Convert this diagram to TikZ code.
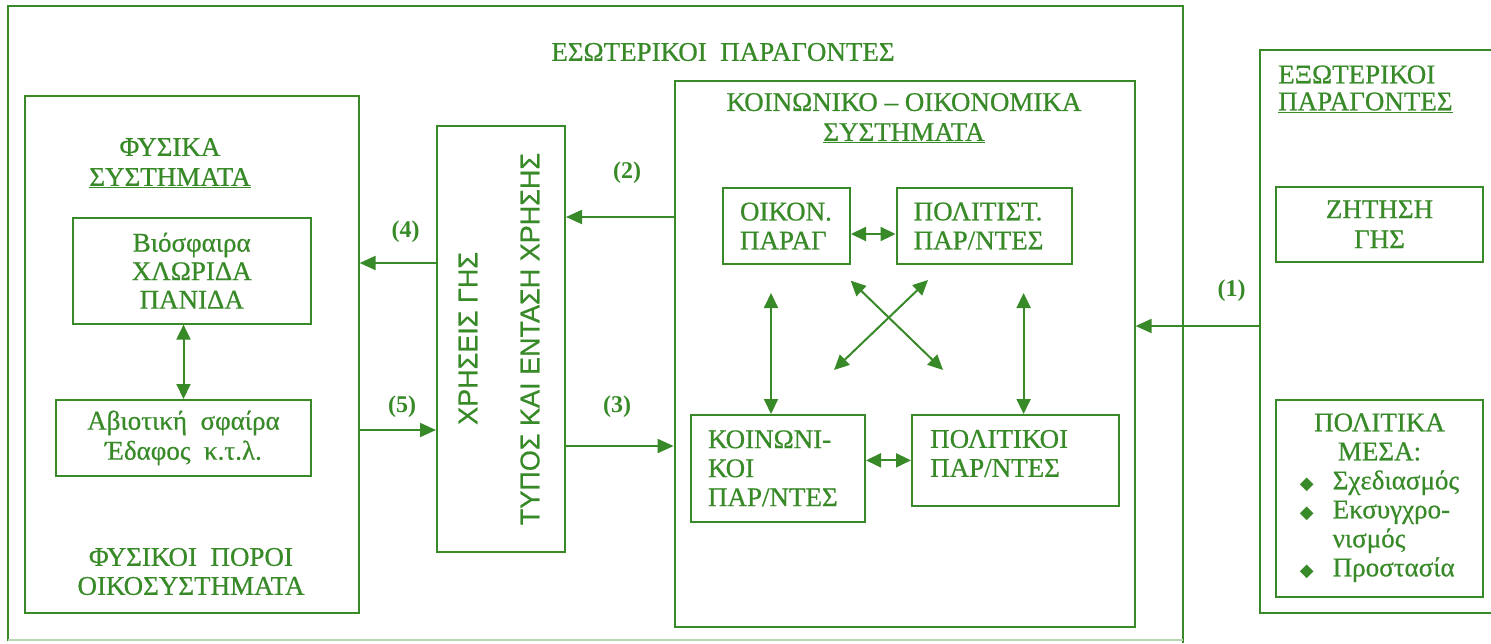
\documentclass[tikz,border=0pt]{standalone}
\usepackage{fontspec}
\setmainfont{Liberation Serif}[UprightFeatures={FakeBold=0.6}]
\newfontfamily\sansf{Liberation Sans}[UprightFeatures={FakeBold=0.6}]
\newfontfamily\djv{DejaVu Sans}
\usetikzlibrary{arrows.meta}
\definecolor{gr}{RGB}{56,138,40}
\newcommand\bul{{\djv\fontsize{18}{18}\selectfont ◆}}
\begin{document}
\begin{tikzpicture}[x=1pt,y=-1pt,
  every node/.style={text=gr, inner sep=0pt, font=\fontsize{27}{29}\selectfont},
  box/.style={draw=gr, line width=2pt, rectangle},
  conn/.style={draw=gr, line width=2pt, -{Triangle[length=16pt,width=14pt]}},
  dbl/.style={draw=gr, line width=2pt, {Triangle[length=15pt,width=14pt]}-{Triangle[length=15pt,width=14pt]}},
  num/.style={font=\fontsize{24}{26}\selectfont\bfseries},
  vtext/.style={rotate=90, font=\sansf\fontsize{27}{30}\selectfont},
]
\clip (0,0) rectangle (1491,643);
\fill[white] (0,0) rectangle (1491,643);

% outer frame (internal factors)
\draw[gr, line width=2pt] (8,641) -- (8,6) -- (1182.5,6) -- (1182.5,643);
\draw[gr!35, line width=2pt] (8,640) -- (1182.5,640);
\node (intt) at (723,52) {ΕΣΩΤΕΡΙΚΟΙ\ \ ΠΑΡΑΓΟΝΤΕΣ};

% natural systems
\node[box, minimum width=333.6pt, minimum height=517pt] (fys) at (191.8,354.5) {};
\node[align=center, font=\fontsize{27}{30}\selectfont] (fyst) at (170,163) {ΦΥΣΙΚΑ\\\underline{ΣΥΣΤΗΜΑΤΑ}};
\node[align=center] (fysb) at (191,571.5) {ΦΥΣΙΚΟΙ\ \ ΠΟΡΟΙ\\ΟΙΚΟΣΥΣΤΗΜΑΤΑ};
\node[box, minimum width=238pt, minimum height=106pt, align=center, font=\fontsize{27}{28.5}\selectfont] (bio) at (191.75,270.6) {Βιόσφαιρα\\ΧΛΩΡΙΔΑ\\ΠΑΝΙΔΑ};
\node[box, minimum width=255pt, minimum height=76pt, align=center, font=\fontsize{27}{30}\selectfont] (abio) at (183.5,438) {Αβιοτική\ \ σφαίρα\\Έδαφος\ \ κ.τ.λ.};
\draw[dbl] (bio.south -| abio.north) -- (abio.north);

% land use
\node[box, minimum width=128pt, minimum height=425.5pt] (xr) at (501,338.75) {};
\node[vtext] (xr1) at (468,338.4) {ΧΡΗΣΕΙΣ ΓΗΣ};
\node[vtext] (xr2) at (530,339) {ΤΥΠΟΣ ΚΑΙ ΕΝΤΑΣΗ ΧΡΗΣΗΣ};

% socio-economic systems
\node[box, minimum width=460pt, minimum height=546.3pt] (koino) at (904.6,353.85) {};
\node[align=center, font=\fontsize{27}{30}\selectfont] (koinot) at (904,118) {ΚΟΙΝΩΝΙΚΟ – ΟΙΚΟΝΟΜΙΚΑ\\\underline{ΣΥΣΤΗΜΑΤΑ}};
\node[box, minimum width=127.5pt, minimum height=76pt, align=left, text width=92.5pt, inner xsep=17.5pt] (oik) at (786.25,226) {ΟΙΚΟΝ.\\ΠΑΡΑΓ};
\node[box, minimum width=175pt, minimum height=76pt, align=left, text width=140.6pt, inner xsep=17.2pt] (polit) at (984,226) {ΠΟΛΙΤΙΣΤ.\\ΠΑΡ/ΝΤΕΣ};
\node[box, minimum width=174.3pt, minimum height=106.7pt, align=left, text width=139.7pt, inner xsep=17.3pt] (koin) at (777.85,468.35) {ΚΟΙΝΩΝΙ-\\ΚΟΙ\\ΠΑΡ/ΝΤΕΣ};
\node[box, minimum width=207pt, minimum height=90.7pt] (polk) at (1015.5,460.35) {};
\node[align=left, anchor=west] (polkt) at (930,453.5) {ΠΟΛΙΤΙΚΟΙ\\ΠΑΡ/ΝΤΕΣ};

\draw[dbl] ([yshift=-8pt]oik.east) -- ([yshift=-8pt]polit.west);
\draw[dbl] (koin.east |- polk.west) -- (polk.west);
\coordinate (v1) at (771,293);
\coordinate (v2) at (1023.6,293);
\draw[dbl] (v1) -- (v1 |- koin.north);
\draw[dbl] (v2) -- (v2 |- polk.north);
\coordinate (c1) at (850.7,280.7);
\coordinate (c2) at (943,370);
\coordinate (c3) at (928,280);
\coordinate (c4) at (834,370);
\draw[dbl] (c1) -- (c2);
\draw[dbl] (c3) -- (c4);

% external factors
\node[box, minimum width=260pt, minimum height=562.7pt] (ext) at (1390,331.35) {};
\node[align=left, anchor=west, font=\fontsize{27}{27}\selectfont] (extt) at (1278,89) {ΕΞΩΤΕΡΙΚΟΙ\\\underline{ΠΑΡΑΓΟΝΤΕΣ}};
\node[box, minimum width=207pt, minimum height=75.5pt, align=center, font=\fontsize{27}{30}\selectfont] (zit) at (1379.5,224.25) {ΖΗΤΗΣΗ\\ΓΗΣ};
\node[box, minimum width=207pt, minimum height=197pt, font=\fontsize{27}{29}\selectfont] (pm) at (1379.5,498) {%
\begin{tabular}{@{}c@{\hspace{19pt}}l@{}}
\multicolumn{2}{c}{ΠΟΛΙΤΙΚΑ}\\
\multicolumn{2}{c}{ΜΕΣΑ:}\\
\bul & Σχεδιασμός\\
\bul & Εκσυγχρο-\\
     & νισμός\\
\bul & Προστασία
\end{tabular}\hspace{5pt}};

% main connectors
\coordinate (y1) at (0,326);
\coordinate (y2) at (0,217);
\coordinate (y3) at (0,446);
\coordinate (y4) at (0,263);
\coordinate (y5) at (0,430);
\draw[conn] (ext.west |- y1) -- (koino.east |- y1);
\draw[conn] (koino.west |- y2) -- (xr.east |- y2);
\draw[conn] (xr.east |- y3) -- (koino.west |- y3);
\draw[conn] (xr.west |- y4) -- (fys.east |- y4);
\draw[conn] (fys.east |- y5) -- (xr.west |- y5);
\node[num] (n1) at (1231.7,291) {(1)};
\node[num] (n2) at (627,173) {(2)};
\node[num] (n3) at (617,407) {(3)};
\node[num] (n4) at (405.7,232) {(4)};
\node[num] (n5) at (402,407) {(5)};
\end{tikzpicture}
\end{document}
